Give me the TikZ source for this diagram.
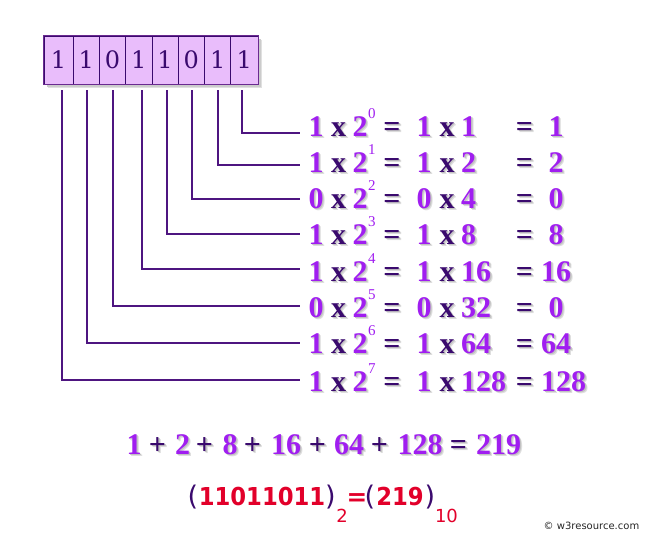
\documentclass[tikz,border=0pt]{standalone}
\usepackage{fontspec}
\setmainfont{Liberation Serif}[BoldFont={Liberation Serif Bold}]
\newfontfamily\dvs{DejaVu Sans}
\newfontfamily\dvserif{DejaVu Serif}
\definecolor{brightp}{HTML}{A01EF0}
\definecolor{darkp}{HTML}{3A0A6E}
\definecolor{linep}{HTML}{4E1580}
\definecolor{cellfill}{HTML}{E9BDFB}
\definecolor{cellborder}{HTML}{6A2A90}
\definecolor{redd}{HTML}{E2002A}
\newcommand\shd[1]{\leavevmode
  \rlap{\kern2.4pt\raisebox{-2.4pt}{\textcolor{black!13}{#1}}}%
  \rlap{\kern1.4pt\raisebox{-1.4pt}{\textcolor{black!24}{#1}}}#1}
\newcounter{tk}
\newcommand\tok[5]{\stepcounter{tk}%
  \node[#4,anchor=#3] (t\arabic{tk}) at (#1,#2) {\shd{#5}};}
\begin{document}
\begin{tikzpicture}[x=1pt,y=-1pt,
  big/.style={font=\bfseries\fontsize{30}{30}\selectfont, inner sep=0pt},
  bright/.style={big, text=brightp},
  dark/.style={big, text=darkp},
  supx/.style={font=\fontsize{15}{15}\selectfont, text=brightp, inner sep=0pt},
  cell/.style={draw=darkp, line width=0.8pt, fill=cellfill, inner sep=0pt,
    minimum height=48pt, text=darkp, font=\dvserif\fontsize{24}{24}\selectfont},
  conn/.style={draw=linep, line width=1.8pt},
  rbig/.style={font=\dvs\bfseries\fontsize{24.7}{25}\selectfont, text=redd, inner sep=0pt},
  paren/.style={font=\dvs\fontsize{27}{27}\selectfont, text=darkp, inner sep=0pt},
  rsub/.style={font=\dvs\fontsize{18}{18}\selectfont, text=redd, inner sep=0pt}
]
\useasboundingbox (0,0) rectangle (649,538);
% box shadow
\fill[black!12] (47.5,39.5) rectangle (261.5,88);
\fill[black!20] (46.5,38.5) rectangle (260.5,87);
% cells
\foreach \l/\r/\d [count=\k from 0] in {44/73/1, 73/99.3/1, 99.3/125.7/0, 125.7/152/1,
    152/178/1, 178/204.7/0, 204.7/230.7/1, 230.7/258/1} {
  \pgfmathsetmacro\cx{(\l+\r)/2}
  \pgfmathsetmacro\w{\r-\l}
  \node[cell, minimum width=\w pt] (c\k) at (\cx,60) {\d};
}
\draw[cellborder, line width=1.5pt] (c0.north west) rectangle (c7.south east);
% rows
\foreach \i/\bit/\val/\prod/\lx/\ly/\ty in {
  0/1/1/1/241.7/132.7/126,
  1/1/2/2/218.3/165/162,
  2/0/4/0/192.3/199.3/198,
  3/1/8/8/167/234/234,
  4/1/16/16/141.7/269.3/271,
  5/0/32/0/113.3/306/307,
  6/1/64/64/87.3/342.7/343,
  7/1/128/128/61.7/380/381} {
  \coordinate (top\i) at (\lx,90);
  \coordinate (end\i) at (300,\ly);
  \draw[conn] (top\i) |- (end\i);
  \pgfmathsetmacro\b{\ty+10}
  \pgfmathsetmacro\bs{\ty-7.5}
  \tok{316}{\b}{base}{bright}{\bit}
  \tok{338.5}{\b}{base}{dark}{x}
  \tok{360}{\b}{base}{bright}{2}
  \node[supx, anchor=base west] (sup\i) at (368,\bs) {\i};
  \tok{392}{\b}{base}{dark}{=}
  \tok{424}{\b}{base}{bright}{\bit}
  \tok{447}{\b}{base}{dark}{x}
  \tok{461}{\b}{base west}{bright}{\val}
  \tok{524.5}{\b}{base}{dark}{=}
  \ifnum\prod<10
    \tok{556}{\b}{base}{bright}{\prod}
  \else
    \tok{541}{\b}{base west}{bright}{\prod}
  \fi
}
% sum line
\foreach \x/\t/\s in {134/1/bright, 157.5/+/dark, 182.5/2/bright, 204.5/+/dark,
   230/8/bright, 252.5/+/dark, 286/16/bright, 317.5/+/dark, 349/64/bright,
   379.5/+/dark, 420/128/bright, 458.5/=/dark, 498.5/219/bright} {
  \tok{\x}{454}{base}{\s}{\t}
}
% result line
\node[paren, anchor=base] (p1) at (193,505) {(};
\node[rbig, anchor=base] (bin) at (262,505) {\scalebox{0.92}[1]{11011011}};
\node[paren, anchor=base] (p2) at (330.5,505) {)};
\node[rsub, anchor=base] (s2) at (342,522) {2};
\node[rbig, anchor=base] (eq) at (357,505) {=};
\node[paren, anchor=base] (p3) at (370,505) {(};
\node[rbig, anchor=base] (dec) at (400,505) {\scalebox{0.92}[1]{219}};
\node[paren, anchor=base] (p4) at (430,505) {)};
\node[rsub, anchor=base] (s10) at (446.5,522) {10};
% copyright
\node[font=\dvs\fontsize{10}{12}\selectfont, text=black!85, inner sep=0pt] (copy) at (591.5,526) {© w3resource.com};
\end{tikzpicture}
\end{document}
